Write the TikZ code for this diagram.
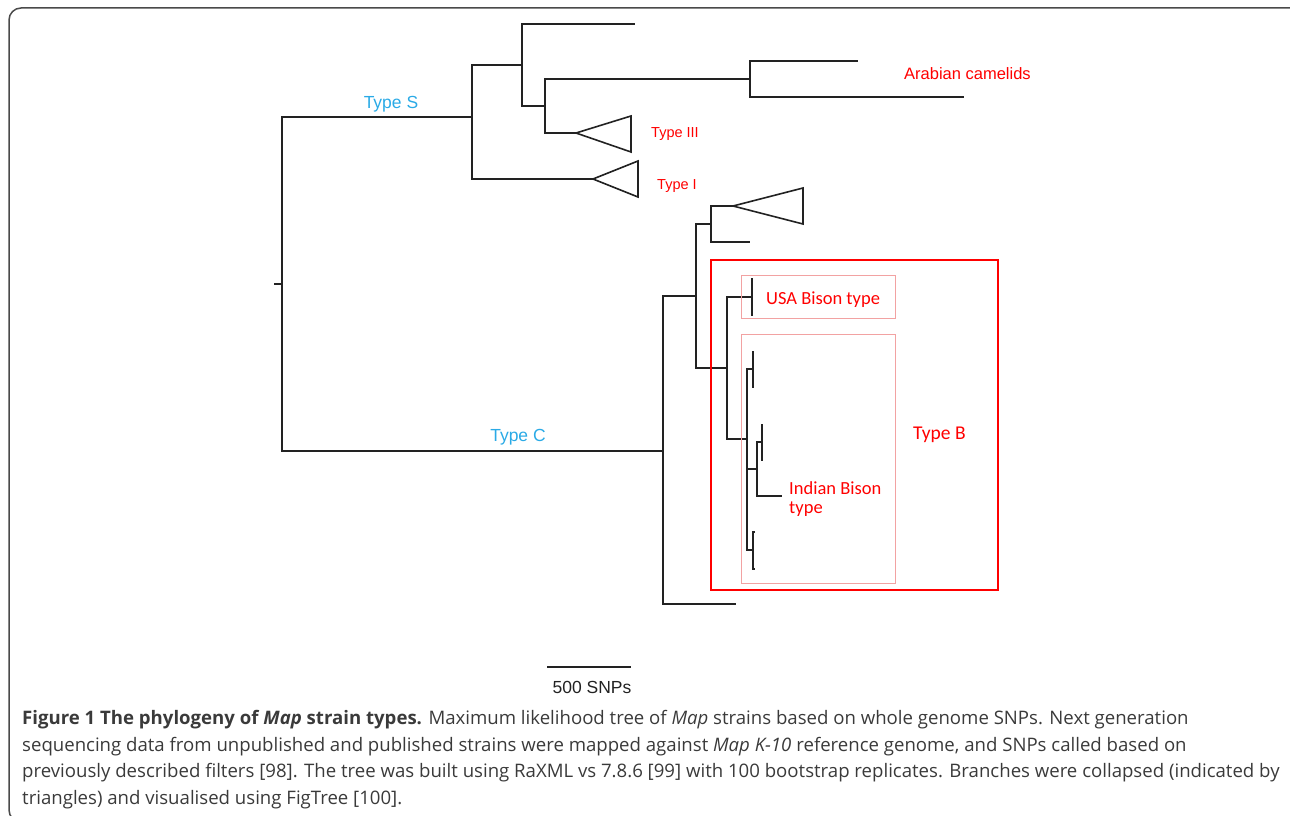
\documentclass[tikz,border=0pt]{standalone}
\usepackage{fontspec}
\usepackage{xcolor}
\usepackage{tikz}
\usetikzlibrary{positioning}
\newfontfamily\arialfont{Liberation Sans}
\newfontfamily\calibrifont{Carlito}
\newfontfamily\captionfont{Open Sans}
\definecolor{phyInk}{HTML}{222222}
\definecolor{phyBlue}{HTML}{2AAAE6}
\definecolor{phyRed}{HTML}{FF0000}
\definecolor{phyPink}{HTML}{F2A2A2}
\definecolor{phyText}{HTML}{3A3A3A}
\definecolor{phyFrame}{HTML}{4A4A4A}
\tikzset{
  phy diagram/.style={x=1pt, y=-1pt, line join=miter},
  phy edge/.style={draw=phyInk, line width=1.6pt},
  phy type/.style={font=\arialfont\fontsize{17.5}{20}\selectfont,
    text=phyBlue, inner sep=0pt, anchor=base},
  phy strain/.style={font=\arialfont\fontsize{16.5}{19}\selectfont,
    text=phyRed, inner sep=0pt, anchor=base west},
  phy small strain/.style={phy strain, font=\arialfont\fontsize{14.5}{17}\selectfont},
  phy host/.style={font=\calibrifont\fontsize{18.5}{19}\selectfont,
    text=phyRed, inner sep=0pt, anchor=base west, align=left},
  phy group box/.style={draw=phyRed, line width=2pt},
  phy sub box/.style={draw=phyPink, line width=1pt},
  phy scale/.style={draw=phyInk, line width=2pt},
  phy scale label/.style={font=\arialfont\fontsize{17.5}{19}\selectfont,
    text=phyInk, inner sep=0pt, anchor=base},
  phy caption/.style={font=\captionfont\fontsize{18.6}{26.7}\selectfont,
    text=phyText, inner sep=0pt, anchor=north west, align=left},
  phy frame/.style={draw=phyFrame, line width=1.5pt, rounded corners=12pt}
}

\begin{document}
\begin{tikzpicture}[phy diagram]
\useasboundingbox (0,0) rectangle (1290,816);
\begin{scope}
  \clip (0,0) rectangle (1290,816);
  \draw[phy frame] (9,8) rectangle (1330,822);
\end{scope}

\coordinate (rootStub) at (274,284);
\coordinate (root) at (282,284);
\coordinate (nS) at (472,117);
\coordinate (nS1) at (522,65);
\coordinate (lA) at (635,24);
\coordinate (nS2) at (545,106);
\coordinate (nCam) at (750,79);
\coordinate (lCam1) at (858,61);
\coordinate (lCam2) at (964,97);
\coordinate (tIII) at (576,133);
\coordinate (tI) at (593,179);
\coordinate (nC) at (663,451);
\coordinate (lC) at (736,604);
\coordinate (nC1) at (696,296);
\coordinate (nC2) at (711,224);
\coordinate (tC) at (733,206);
\coordinate (lC2) at (750,242);
\coordinate (nB) at (727,368);
\coordinate (nUSA) at (752,297);
\coordinate (nInd) at (747,439);
\coordinate (nI1) at (753,369);
\coordinate (nI2) at (757,469);
\coordinate (nI3) at (753,550);
\coordinate (nI4) at (762,442);
\coordinate (lI2) at (782,496);

\draw[phy edge] (rootStub) -- (root);
\foreach \p/\c in {root/nS, root/nC, nS/nS1, nS/tI, nS1/lA, nS1/nS2,
  nS2/nCam, nS2/tIII, nCam/lCam1, nCam/lCam2, nC/nC1, nC/lC, nC1/nC2,
  nC1/nB, nC2/tC, nC2/lC2, nB/nUSA, nB/nInd, nInd/nI1, nInd/nI2,
  nInd/nI3, nI2/nI4, nI2/lI2}
  \draw[phy edge] (\p) |- (\c);

\draw[phy edge] (tIII) -- ++(55,-17) -- ++(0,36) -- cycle;
\draw[phy edge] (tI) -- ++(45,-18) -- ++(0,36) -- cycle;
\draw[phy edge] (tC) -- ++(70,-18) -- ++(0,36) -- cycle;
\draw[phy edge] (nUSA) ++(0,-19) -- ++(0,38);
\draw[phy edge] (nI1) ++(0,-18) -- ++(0,37);
\draw[phy edge] (nI4) ++(0,-18) -- ++(0,37);
\draw[phy edge] (nI3) ++(2,-18) -- ++(-2,0) -- ++(0,37) -- ++(2,0);

\node[phy type] (typeS) at (391,108) {Type S};
\node[phy type] (typeC) at (518,441) {Type C};
\node[phy strain] (camelids) at (904,79) {Arabian camelids};
\node[phy small strain] (typeIII) at (651,137) {Type III};
\node[phy small strain] (typeI) at (657,189) {Type I};

\draw[phy group box] (711,260) rectangle (998,590);
\draw[phy sub box] (741,275) rectangle (895,318);
\draw[phy sub box] (741,334) rectangle (895,583);
\node[phy host] (usaBison) at (766,304) {USA Bison type};
\node[phy host, font=\calibrifont\fontsize{19.5}{20}\selectfont] (typeB) at (913,439) {Type B};
\node[phy host, anchor=north west] (indBison) at (789,481) {Indian Bison\\type};

\coordinate (scaleW) at (547,667);
\coordinate (scaleE) at (631,667);
\draw[phy scale] (scaleW) -- (scaleE);
\node[phy scale label] (scaleText) at (592,693) {500 SNPs};

\node[phy caption] (caption) at (22,710) {%
\textbf{Figure 1 The phylogeny of \textit{Map} strain types.} Maximum likelihood tree of \textit{Map} strains based on whole genome SNPs. Next generation\\
sequencing data from unpublished and published strains were mapped against \textit{Map K-10} reference genome, and SNPs called based on\\
previously described filters [98]. The tree was built using RaXML vs 7.8.6 [99] with 100 bootstrap replicates. Branches were collapsed (indicated by\\
triangles) and visualised using FigTree [100].};
\end{tikzpicture}
\end{document}
